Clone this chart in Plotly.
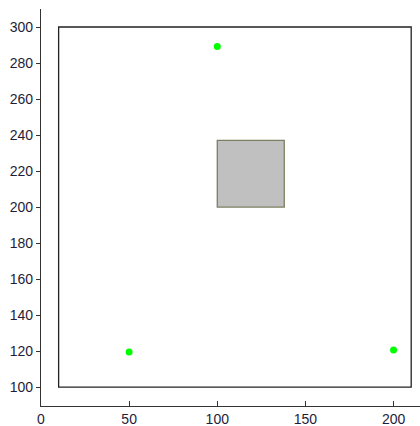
import plotly.graph_objects as go

# Data
pts_x = [50, 100, 200]
pts_y = [119.5, 289.2, 120.6]
outer_rect = [10, 210, 100, 300]   # x0, x1, y0, y1
inner_rect = [100, 138, 200, 237]
x_ticks = [0, 50, 100, 150, 200]
y_ticks = list(range(100, 301, 20))

fig = go.Figure()
fig.add_shape(type="rect", x0=outer_rect[0], x1=outer_rect[1], y0=outer_rect[2], y1=outer_rect[3],
              line=dict(color="#222222", width=1.3), fillcolor="rgba(0,0,0,0)", layer="below")
fig.add_shape(type="rect", x0=inner_rect[0], x1=inner_rect[1], y0=inner_rect[2], y1=inner_rect[3],
              line=dict(color="#7c7f62", width=1.3), fillcolor="#c0c0c0", layer="below")
fig.add_trace(go.Scatter(x=pts_x, y=pts_y, mode="markers",
                         marker=dict(color="#00ff00", size=7, line=dict(width=0))))

axfont = dict(family="Liberation Sans, Arial, sans-serif", size=14, color="#1e1e3a")
fig.update_layout(
    width=420, height=426,
    margin=dict(l=41, r=0, t=9, b=20, autoexpand=False),
    paper_bgcolor="white", plot_bgcolor="white",
    showlegend=False,
    xaxis=dict(range=[0, 215], tickvals=x_ticks, showgrid=False, zeroline=False,
               showline=True, linecolor="#333333", linewidth=1.3, automargin=False,
               ticks="inside", ticklen=5, tickcolor="#333333", tickfont=axfont),
    yaxis=dict(range=[89.5, 310], tickvals=y_ticks, showgrid=False, zeroline=False,
               showline=True, linecolor="#333333", linewidth=1.3, automargin=False,
               ticks="outside", ticklen=4, tickcolor="#333333", tickfont=axfont),
)
fig.write_html("out.html")
